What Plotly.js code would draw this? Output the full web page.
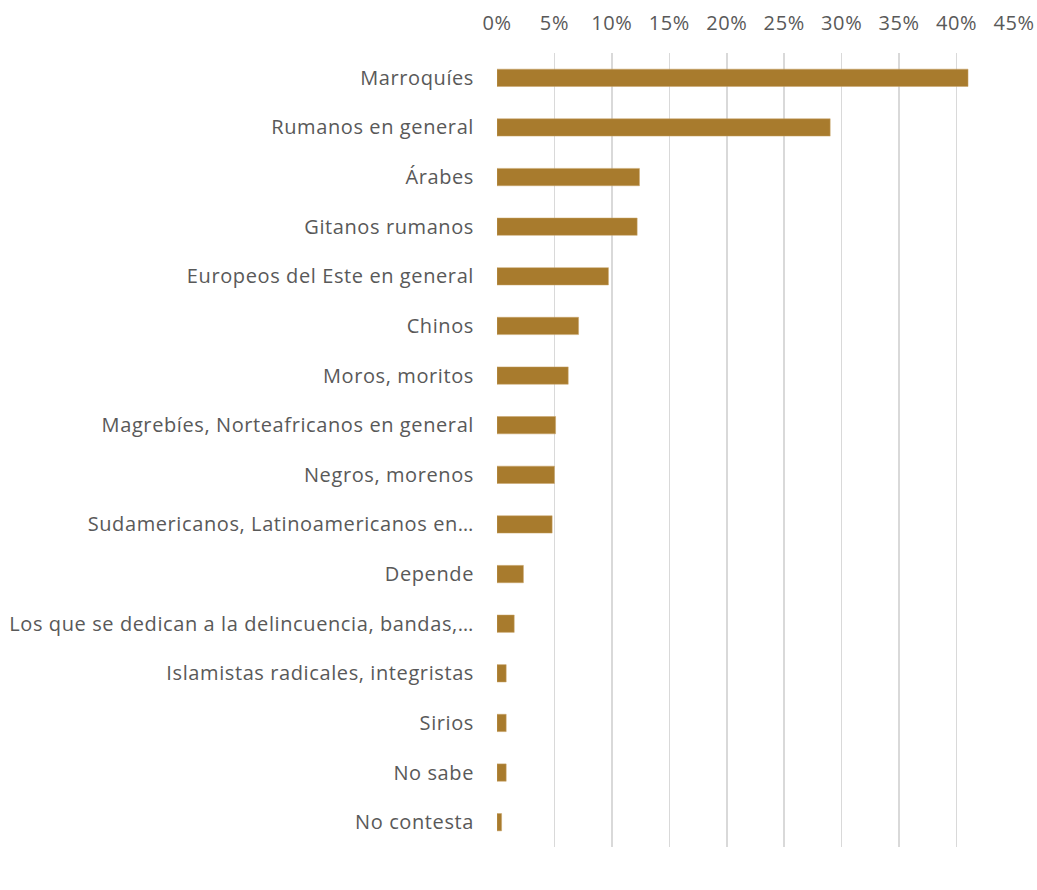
<!DOCTYPE html>
<html><head><meta charset="utf-8">
<script src="https://cdn.plot.ly/plotly-3.0.1.min.js"></script>
<style>html,body{margin:0;padding:0;background:#fff;}#chart{width:1037px;height:890px;}
#chart .xtick text, #chart .ytick text{letter-spacing:0.6px;}</style>
</head><body><div id="chart"></div>
<script>
const categories = [
  "Marroquíes",
  "Rumanos en general",
  "Árabes",
  "Gitanos rumanos",
  "Europeos del Este en general",
  "Chinos",
  "Moros, moritos",
  "Magrebíes, Norteafricanos en general",
  "Negros, morenos",
  "Sudamericanos, Latinoamericanos en…",
  "Depende",
  "Los que se dedican a la delincuencia, bandas,…",
  "Islamistas radicales, integristas",
  "Sirios",
  "No sabe",
  "No contesta"
];
const values = [41.0, 29.0, 12.4, 12.2, 9.7, 7.1, 6.2, 5.1, 5.0, 4.8, 2.3, 1.5, 0.8, 0.8, 0.8, 0.4];
const xTicks = [0, 5, 10, 15, 20, 25, 30, 35, 40, 45];
const xTickLabels = ["0%", "5%", "10%", "15%", "20%", "25%", "30%", "35%", "40%", "45%"];

const trace = {
  type: 'bar',
  orientation: 'h',
  y: categories,
  x: values,
  marker: {color: '#A87B2D', line: {color: '#C9A56A', width: 0.5}},
  hoverinfo: 'x+y'
};
const layout = {
  width: 1037, height: 890,
  margin: {l: 497, r: 23, t: 53, b: 43},
  paper_bgcolor: '#fff', plot_bgcolor: '#fff',
  font: {family: 'Open Sans, sans-serif', size: 20, color: '#595959'},
  bargap: 0.65,
  showlegend: false,
  xaxis: {
    side: 'top',
    range: [0, 45],
    tickvals: xTicks,
    ticktext: xTickLabels,
    showgrid: true, gridcolor: '#d9d9d9', gridwidth: 1.5,
    zeroline: false, showline: false,
    ticks: '', ticklabelstandoff: 18,
    tickfont: {size: 20, color: '#595959'},
    fixedrange: true
  },
  yaxis: {
    autorange: 'reversed',
    type: 'category',
    showgrid: false, zeroline: false, showline: false,
    ticks: '', ticklabelstandoff: 22,
    tickfont: {size: 20, color: '#595959'},
    fixedrange: true
  }
};
Plotly.newPlot('chart', [trace], layout, {displayModeBar: false, staticPlot: true});
</script>
</body></html>
